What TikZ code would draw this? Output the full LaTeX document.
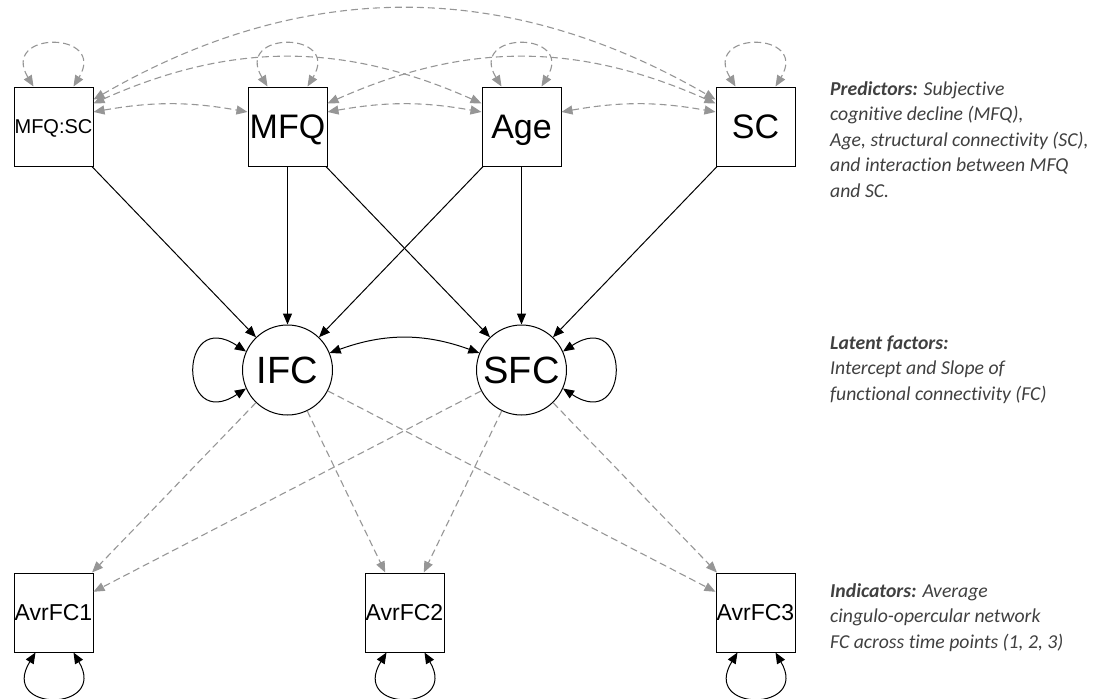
\documentclass[tikz,border=0pt]{standalone}
\usepackage{fontspec}
\setmainfont{Liberation Sans}
\newfontfamily\notefont[Ligatures=NoCommon]{Carlito}
\usetikzlibrary{arrows.meta}
\definecolor{covgray}{RGB}{150,150,150}
\definecolor{notegray}{RGB}{64,64,64}
\begin{document}
\begin{tikzpicture}[x=1pt, y=1pt, node distance=234pt, >={Triangle[length=11pt,width=9pt]},
		obs/.style={draw, line width=1pt, minimum size=79pt, inner sep=0pt, text depth=0pt},
		pred/.style={obs, text height=24.3pt, font=\fontsize{34}{34}\selectfont},
		ind/.style={obs, text height=16.5pt, font=\fontsize{23}{23}\selectfont},
		lat/.style={draw, circle, line width=1pt, minimum size=90pt, inner sep=0pt, text height=27.2pt, text depth=0pt, font=\fontsize{38}{38}\selectfont},
		regr/.style={->, line width=1pt},
		load/.style={->, covgray, line width=1.1pt, dash pattern=on 7pt off 4pt},
		covar/.style={<->, covgray, line width=1.1pt, dash pattern=on 7pt off 4pt},
		resid/.style={<->, line width=1pt},
		note/.style={anchor=base west, align=left, inner sep=0pt, text=notegray, font=\notefont\itshape\fontsize{19.7}{25.6}\selectfont}]
		\useasboundingbox (0,0) rectangle (1104,-699);
		% predictors
		\node (mfqsc) [obs, text height=14.3pt, font=\fontsize{20}{20}\selectfont] at (53.5,-126.5) {MFQ:SC};
		\node (mfq) [pred, right of = mfqsc] {MFQ};
		\node (age) [pred, right of = mfq] {Age};
		\node (sc) [pred, right of = age] {SC};
		% latent factors
		\node (ifc) [lat, below of = mfq, node distance=243.5pt] {IFC};
		\node (sfc) [lat, below of = age, node distance=243.5pt] {SFC};
		% indicators
		\node (fc1) [ind, below of = mfqsc, node distance=486pt] {AvrFC1};
		\node (fc2) [ind, right of = fc1, node distance=351pt] {AvrFC2};
		\node (fc3) [ind, below of = sc, node distance=486pt] {AvrFC3};
		% notes (anchored at the last line)
		\node (prednote) [note] at (830,-197.4) {\textbf{Predictors:} Subjective\\cognitive decline (MFQ),\\Age, structural connectivity (SC),\\and interaction between MFQ\\and SC.};
		\node (latnote) [note] at (830,-400.2) {\textbf{Latent factors:}\\Intercept and Slope of\\functional connectivity (FC)};
		\node (indnote) [note] at (830,-648.2) {\textbf{Indicators:} Average\\cingulo-opercular network\\FC across time points (1, 2, 3)};
		% regressions
		\draw[regr] (mfqsc) -- (ifc);
		\draw[regr] (mfq) -- (ifc);
		\draw[regr] (mfq) -- (sfc);
		\draw[regr] (age) -- (ifc);
		\draw[regr] (age) -- (sfc);
		\draw[regr] (sc) -- (sfc);
		% loadings
		\foreach \f in {ifc, sfc}
			\foreach \i in {fc1, fc2, fc3}
				\draw[load] (\f) -- (\i);
		% covariances
		\draw[covar] (mfqsc.20) to[bend left=10] (mfq.160);
		\draw[covar] (mfq.20) to[bend left=10] (age.160);
		\draw[covar] (age.20) to[bend left=10] (sc.160);
		\draw[covar] (mfqsc.30) to[bend left=24] (age.150);
		\draw[covar] (mfq.30) to[bend left=24] (sc.150);
		\draw[covar] (mfqsc.34) to[bend left=30] (sc.146);
		\draw[resid] (ifc.22) to[bend left=20] (sfc.158);
		% variances
		\foreach \n in {mfqsc, mfq, age, sc}
			\draw[covar] ([xshift=-20pt]\n.north) .. controls +(-34,56) and +(34,56) .. ([xshift=20pt]\n.north);
		\foreach \n in {fc1, fc2, fc3}
			\draw[resid] ([xshift=-18pt]\n.south) .. controls +(-37,-60) and +(35,-60) .. ([xshift=20pt]\n.south);
		\draw[resid] (ifc.156) .. controls +(-68,45) and +(-68,-45) .. (ifc.204);
		\draw[resid] (sfc.24) .. controls +(68,45) and +(68,-45) .. (sfc.-24);
	\end{tikzpicture}
\end{document}
